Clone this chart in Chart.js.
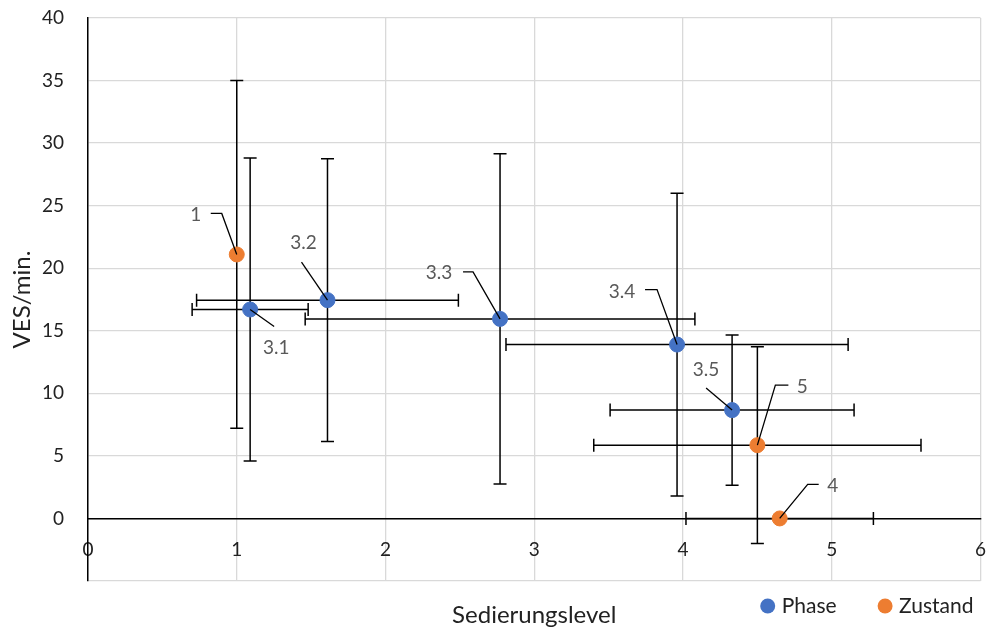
<!DOCTYPE html>
<html>
<head>
<meta charset="utf-8">
<script src="https://cdn.jsdelivr.net/npm/chart.js@4.4.1/dist/chart.umd.min.js"></script>
<style>
  body { margin: 0; background: #fff; }
  #wrap { width: 989px; height: 630px; }
</style>
</head>
<body>
<div id="wrap"><canvas id="chart"></canvas></div>
<script>
// Werte
const phaseLabels = ['3.1', '3.2', '3.3', '3.4', '3.5'];
const phaseX = [1.09, 1.61, 2.77, 3.96, 4.33];
const phaseY = [16.7, 17.45, 15.95, 13.9, 8.66];
const phaseXErr = [0.39, 0.88, 1.31, 1.15, 0.82];
const phaseYErr = [12.1, 11.3, 13.2, 12.1, 6.0];

const zustandLabels = ['1', '5', '4'];
const zustandX = [1.0, 4.5, 4.65];
const zustandY = [21.1, 5.86, 0];
const zustandXErr = [0, 1.1, 0.63];
const zustandYErr = [13.9, 7.86, 0];

const xTickValues = [0, 1, 2, 3, 4, 5, 6];
const yTickValues = [-5, 0, 5, 10, 15, 20, 25, 30, 35, 40];

// Lage der Beschriftungen (Pixel relativ zum Punkt) und Führungslinien
const phaseLabelPos = [
    { dx: 26, dy: 38, leader: [[24, 17]] },
    { dx: -24, dy: -57, leader: [[-26, -38]] },
    { dx: -61, dy: -46, leader: [[-37, -47], [-27, -47]] },
    { dx: -55, dy: -53, leader: [[-32, -55], [-20, -55]] },
    { dx: -26, dy: -40, leader: [[-26, -22]] }
];
const zustandLabelPos = [
    { dx: -41, dy: -40, leader: [[-26, -41], [-15, -41]] },
    { dx: 45, dy: -58, leader: [[31, -60], [18, -60]] },
    { dx: 53, dy: -33, leader: [[39, -34], [28, -34]] }
];

const FONT = 'Lato, "Open Sans", sans-serif';

function buildPoints(xs, ys, exs, eys, labels) {
    return xs.map((x, i) => ({ x: x, y: ys[i], ex: exs[i], ey: eys[i], label: labels[i] }));
}

const errorBarPlugin = {
    id: 'errorBars',
    beforeDatasetsDraw(chart) {
        const ctx = chart.ctx;
        const xs = chart.scales.x;
        const ys = chart.scales.y;
        const cap = 6.5;
        ctx.save();
        ctx.strokeStyle = '#000';
        ctx.lineWidth = 1.5;
        chart.data.datasets.forEach(ds => {
            ds.data.forEach(p => {
                const px = xs.getPixelForValue(p.x);
                const py = ys.getPixelForValue(p.y);
                ctx.beginPath();
                if (p.ex) {
                    const l = xs.getPixelForValue(p.x - p.ex);
                    const r = xs.getPixelForValue(p.x + p.ex);
                    ctx.moveTo(l, py); ctx.lineTo(r, py);
                    ctx.moveTo(l, py - cap); ctx.lineTo(l, py + cap);
                    ctx.moveTo(r, py - cap); ctx.lineTo(r, py + cap);
                }
                if (p.ey) {
                    const t = ys.getPixelForValue(p.y + p.ey);
                    const b = ys.getPixelForValue(p.y - p.ey);
                    ctx.moveTo(px, t); ctx.lineTo(px, b);
                    ctx.moveTo(px - cap, t); ctx.lineTo(px + cap, t);
                    ctx.moveTo(px - cap, b); ctx.lineTo(px + cap, b);
                }
                ctx.stroke();
            });
        });
        ctx.restore();
    }
};

const pointLabelPlugin = {
    id: 'pointLabels',
    afterDatasetsDraw(chart) {
        const ctx = chart.ctx;
        ctx.save();
        ctx.font = '19px ' + FONT;
        ctx.textAlign = 'center';
        ctx.textBaseline = 'middle';
        chart.data.datasets.forEach((ds, i) => {
            const meta = chart.getDatasetMeta(i);
            meta.data.forEach((el, j) => {
                const pos = ds.labelPos[j];
                ctx.strokeStyle = '#000';
                ctx.lineWidth = 1.3;
                ctx.beginPath();
                ctx.moveTo(el.x + pos.leader[0][0], el.y + pos.leader[0][1]);
                pos.leader.slice(1).forEach(pt => ctx.lineTo(el.x + pt[0], el.y + pt[1]));
                ctx.lineTo(el.x, el.y);
                ctx.stroke();
                ctx.fillStyle = '#595959';
                ctx.fillText(ds.data[j].label, el.x + pos.dx, el.y + pos.dy);
            });
        });
        ctx.restore();
    }
};

const legendTitlePlugin = {
    id: 'legendTitle',
    afterDraw(chart) {
        const ctx = chart.ctx;
        const area = chart.chartArea;
        ctx.save();
        ctx.font = '24px ' + FONT;
        ctx.fillStyle = '#222';
        ctx.textBaseline = 'middle';
        ctx.textAlign = 'center';
        ctx.fillText('Sedierungslevel', (area.left + area.right) / 2, area.bottom + 34);

        // Legende rechts unten
        ctx.font = '21px ' + FONT;
        ctx.textAlign = 'left';
        const r = 7.5, gapText = 6.5, gapItem = 41;
        const items = chart.data.datasets.map(ds => ({ text: ds.label, color: ds.backgroundColor, w: ctx.measureText(ds.label).width }));
        let total = 0;
        items.forEach((it, i) => { total += 2 * r + gapText + it.w + (i ? gapItem : 0); });
        let x = area.right - 7 - total;
        const y = area.bottom + 25;
        items.forEach(it => {
            ctx.fillStyle = it.color;
            ctx.beginPath();
            ctx.arc(x + r, y, r, 0, Math.PI * 2);
            ctx.fill();
            ctx.fillStyle = '#222';
            ctx.fillText(it.text, x + 2 * r + gapText, y);
            x += 2 * r + gapText + it.w + gapItem;
        });
        ctx.restore();
    }
};

const ctx = document.getElementById('chart').getContext('2d');
new Chart(ctx, {
    type: 'scatter',
    data: {
        datasets: [{
            label: 'Phase',
            data: buildPoints(phaseX, phaseY, phaseXErr, phaseYErr, phaseLabels),
            labelPos: phaseLabelPos,
            backgroundColor: '#4472C4',
            borderColor: '#4472C4',
            pointRadius: 7.5,
            pointHoverRadius: 7.5
        }, {
            label: 'Zustand',
            data: buildPoints(zustandX, zustandY, zustandXErr, zustandYErr, zustandLabels),
            labelPos: zustandLabelPos,
            backgroundColor: '#ED7D31',
            borderColor: '#ED7D31',
            pointRadius: 7.5,
            pointHoverRadius: 7.5
        }]
    },
    options: {
        responsive: true,
        maintainAspectRatio: false,
        animation: false,
        layout: {
            padding: { left: 0, right: 7, top: 18, bottom: 49 }
        },
        scales: {
            x: {
                type: 'linear',
                min: 0,
                max: 6,
                position: { y: 0 },
                afterBuildTicks: scale => { scale.ticks = xTickValues.map(v => ({ value: v })); },
                afterFit: scale => { scale.paddingLeft = 0; scale.paddingRight = 0; },
                grid: { color: '#d9d9d9', lineWidth: 1.3, drawTicks: false },
                border: { color: '#000', width: 1.5 },
                ticks: {
                    padding: 20,
                    color: '#222',
                    font: { family: FONT, size: 19 }
                }
            },
            y: {
                type: 'linear',
                min: -5,
                max: 40,
                afterBuildTicks: scale => { scale.ticks = yTickValues.map(v => ({ value: v })); },
                afterFit: scale => { scale.width = 88; scale.paddingTop = 0; scale.paddingBottom = 0; },
                grid: { color: '#d9d9d9', lineWidth: 1.3, drawTicks: false },
                border: { color: '#000', width: 1.5 },
                ticks: {
                    padding: 24,
                    color: '#222',
                    font: { family: FONT, size: 19 },
                    callback: value => (value < 0 ? '' : value)
                },
                title: {
                    display: true,
                    text: 'VES/min.',
                    color: '#222',
                    font: { family: FONT, size: 24 },
                    padding: { top: 8, bottom: 4 }
                }
            }
        },
        plugins: {
            legend: { display: false },
            tooltip: { enabled: false }
        }
    },
    plugins: [errorBarPlugin, pointLabelPlugin, legendTitlePlugin]
});
</script>
</body>
</html>
